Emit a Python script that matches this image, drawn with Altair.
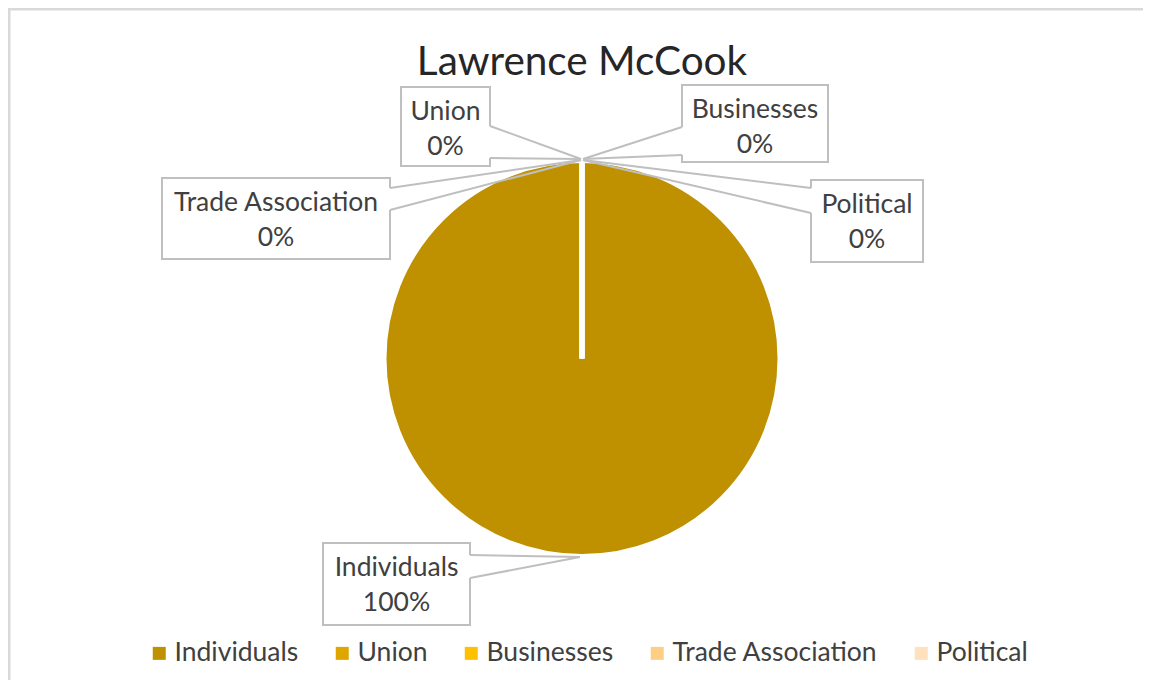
import altair as alt
import pandas as pd

# ---- data ----
categories = ["Individuals", "Union", "Businesses", "Trade Association", "Political"]
values = [100, 0, 0, 0, 0]          # percent of contributions
colors = ["#BF9000", "#DFA600", "#FFC000", "#FFCE85", "#FFE1BE"]
title_text = "Lawrence McCook"

# ---- layout (page pixels; converted to chart pixels below) ----
OFF = 8
W, H = 1135, 672
PIE_CX, PIE_CY, PIE_R = 582, 358.5, 198
LABEL_BOX = {
    "Individuals": (323, 543, 470, 625),
    "Union": (401, 87, 490, 166),
    "Businesses": (682, 85, 828, 162),
    "Trade Association": (162, 178, 390, 259),
    "Political": (811, 180, 923, 262),
}
WEDGE = {
    "Individuals": ((470, 555), (470, 578)),
    "Union": ((490, 126), (490, 158)),
    "Businesses": ((682, 127), (682, 155)),
    "Trade Association": ((390, 188), (390, 210)),
    "Political": ((811, 188), (811, 213)),
}
ANCHOR = {
    "Individuals": (580, 557),
    "Union": (581, 159),
    "Businesses": (583, 159),
    "Trade Association": (581, 160),
    "Political": (583, 160),
}
FONT = "Lato"
FS = 26.5
TXT = "#404040"
LINE = "#BFBFBF"

pie_df = pd.DataFrame({"category": categories, "value": values,
                       "order": list(range(len(categories)))})

boxes, whites, leaders, texts = [], [], [], []
for cat, val in zip(categories, values):
    x1, y1, x2, y2 = LABEL_BOX[cat]
    boxes.append({"x": x1 - OFF, "x2": x2 - OFF, "y": y1 - OFF, "y2": y2 - OFF})
    (ax, ay), (bx, by) = WEDGE[cat]
    px_, py_ = ANCHOR[cat]
    whites.append({"x": ax - OFF, "y": ay - OFF, "x2": bx - OFF, "y2": by - OFF})
    leaders.append({"x": ax - OFF, "y": ay - OFF, "x2": px_ - OFF, "y2": py_ - OFF})
    leaders.append({"x": bx - OFF, "y": by - OFF, "x2": px_ - OFF, "y2": py_ - OFF})
    cx = (x1 + x2) / 2 - OFF
    texts.append({"x": cx, "y": y1 + 25 - OFF, "t": cat})
    texts.append({"x": cx, "y": y1 + 60 - OFF, "t": f"{val}%"})

boxes = pd.DataFrame(boxes)
whites = pd.DataFrame(whites)
leaders = pd.DataFrame(leaders)
texts = pd.DataFrame(texts)

def px(f):
    return alt.X(f, type="quantitative", scale=None, axis=None)

def py(f):
    return alt.Y(f, type="quantitative", scale=None, axis=None)

border_df = pd.DataFrame({"x": [0, 1], "y": [1, 0], "x2": [W, 1], "y2": [1, H]})
border = alt.Chart(border_df).mark_rule(color="#D9D9D9", strokeWidth=3).encode(
    x=px("x"), y=py("y"), x2="x2:Q", y2="y2:Q")

pie = alt.Chart(pie_df).mark_arc(radius=PIE_R, stroke="white", strokeWidth=5).encode(
    theta=alt.Theta("value:Q", stack=True),
    color=alt.Color("category:N",
                    scale=alt.Scale(domain=categories, range=colors),
                    legend=alt.Legend(title=None, orient="none", legendX=138, legendY=632,
                                      direction="horizontal", symbolType="square",
                                      symbolSize=169, symbolStrokeWidth=0,
                                      labelFont=FONT, labelFontSize=FS, labelColor=TXT,
                                      labelLimit=0, labelOffset=2, columnPadding=30,
                                      padding=0)),
    order=alt.Order("order:Q"),
    x=alt.value(PIE_CX - OFF), y=alt.value(PIE_CY - OFF),
)

box_layer = alt.Chart(boxes).mark_rect(fill="white", stroke=LINE, strokeWidth=2).encode(
    x=px("x"), x2="x2:Q", y=py("y"), y2="y2:Q")
white_layer = alt.Chart(whites).mark_rule(color="white", strokeWidth=3).encode(
    x=px("x"), x2="x2:Q", y=py("y"), y2="y2:Q")
leader_layer = alt.Chart(leaders).mark_rule(color=LINE, strokeWidth=2).encode(
    x=px("x"), x2="x2:Q", y=py("y"), y2="y2:Q")
text_layer = alt.Chart(texts).mark_text(font=FONT, fontSize=FS, color=TXT,
                                        baseline="middle", align="center").encode(
    x=px("x"), y=py("y"), text="t:N")

title_layer = alt.Chart(pd.DataFrame({"t": [title_text]})).mark_text(
    font=FONT, fontSize=40.5, color="#262626", baseline="alphabetic", align="center").encode(
    x=alt.value(582 - OFF), y=alt.value(75 - OFF), text="t:N")

chart = alt.layer(border, pie, box_layer, white_layer, leader_layer, text_layer, title_layer).properties(
    width=W, height=H, padding=0, autosize=alt.AutoSizeParams(type="none")
).configure_view(stroke=None)

chart.save("out.html", embed_options={"renderer": "svg", "actions": False})
